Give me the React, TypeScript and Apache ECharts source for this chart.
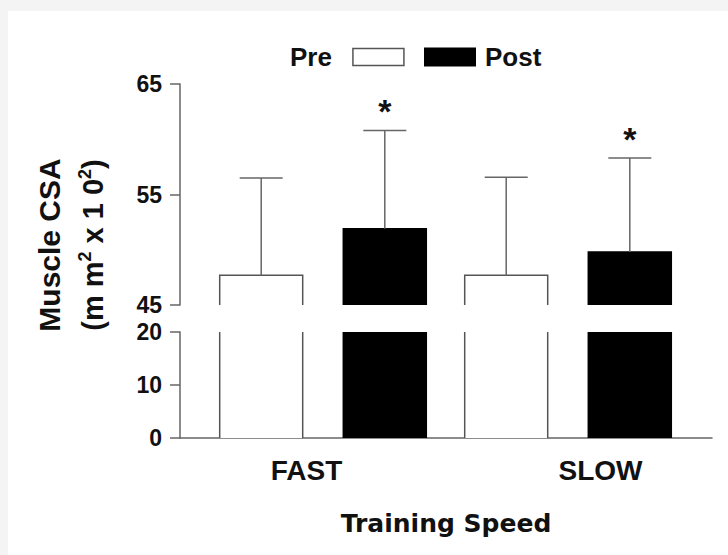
import React, { useEffect, useRef } from 'react';
import * as echarts from 'echarts';

const categories = ['FAST', 'SLOW'];
const seriesNames = ['Pre', 'Post'];
const preMeans = [47.7, 47.7];
const preSD = [8.8, 8.85];
const postMeans = [51.9, 49.8];
const postSD = [8.9, 8.5];
const postSig = ['*', '*'];
const upperTicks = [45, 55, 65];
const lowerTicks = [0, 10, 20];
const yNameLine1 = 'Muscle CSA';
const yNameLine2 = '(m m{sup|2} x 1 0{sup|2})';
const xName = 'Training Speed';

const BAR_W = 83;
const BAR_SHIFT = 61.8;
const CAP_W = 43;
const OUTLINE = '#555';
const ERR = '#666';
const AXIS = '#666';
const TXT = '#111';
const FONT = 'Liberation Sans';

const makeBars = (group: number, upper: boolean) => (params: any, api: any) => {
  const cat = api.value(0);
  const mean = api.value(1);
  const sd = api.value(2);
  const cs = params.coordSys;
  const p = api.coord([cat, mean]);
  const cx = p[0] + (group === 0 ? -BAR_SHIFT : BAR_SHIFT);
  const bottom = cs.y + cs.height;
  const clipped = p[1] < cs.y;
  const top = clipped ? cs.y : p[1];
  const x0 = cx - BAR_W / 2;
  const x1 = cx + BAR_W / 2;
  const fill = group === 0 ? '#ffffff' : '#000000';
  const edge = group === 0 ? OUTLINE : '#000';
  const ls = { stroke: edge, lineWidth: 1.5, fill: null };
  const children: any[] = [
    { type: 'rect', shape: { x: x0, y: top, width: BAR_W, height: bottom - top }, style: { fill } },
  ];
  if (clipped) {
    children.push({ type: 'line', shape: { x1: x0, y1: top, x2: x0, y2: bottom }, style: ls });
    children.push({ type: 'line', shape: { x1: x1, y1: top, x2: x1, y2: bottom }, style: ls });
  } else {
    children.push({
      type: 'polyline',
      shape: { points: [[x0, bottom], [x0, top], [x1, top], [x1, bottom]] },
      style: ls,
    });
  }
  if (upper) {
    const e = api.coord([cat, mean + sd])[1];
    children.push({ type: 'line', shape: { x1: cx, y1: top, x2: cx, y2: e }, style: { stroke: ERR, lineWidth: 1.5 } });
    children.push({
      type: 'line',
      shape: { x1: cx - CAP_W / 2, y1: e, x2: cx + CAP_W / 2, y2: e },
      style: { stroke: ERR, lineWidth: 1.5 },
    });
    const sig = group === 1 ? postSig[params.dataIndex] : '';
    if (sig) {
      children.push({
        type: 'text',
        x: cx,
        y: e - 19,
        style: {
          text: sig,
          fontSize: 34,
          fontWeight: 'bold',
          fontFamily: FONT,
          fill: TXT,
          align: 'center',
          verticalAlign: 'middle',
        },
      });
    }
  }
  return { type: 'group', children };
};

const preData = categories.map((c, i) => [i, preMeans[i], preSD[i]]);
const postData = categories.map((c, i) => [i, postMeans[i], postSD[i]]);

const labelStyle = { fontSize: 23, fontWeight: 'bold' as const, fontFamily: FONT, color: TXT };

function buildOption(): any {
  const gridBase = { containLabel: false, outerBoundsMode: 'none' };
  return {
    animation: false,
    textStyle: { fontFamily: FONT },
    grid: [
      { ...gridBase, left: 200.5, width: 490, top: 84, height: 221 },
      { ...gridBase, left: 200.5, width: 490, top: 332, height: 106 },
      { ...gridBase, left: 180, width: 532, top: 332, height: 106 },
      { ...gridBase, left: 159.5, width: 588, top: 332, height: 106 },
    ],
    xAxis: [
      { gridIndex: 0, type: 'category', data: categories, show: false },
      { gridIndex: 1, type: 'category', data: categories, show: false },
      {
        gridIndex: 2,
        type: 'category',
        data: categories,
        axisLine: { show: true, lineStyle: { color: AXIS, width: 1.5 } },
        axisTick: { show: false },
        axisLabel: { show: false },
        name: xName,
        nameLocation: 'middle',
        nameGap: 73,
        nameTextStyle: { fontSize: 25, fontWeight: 'bold', fontFamily: 'DejaVu Sans', color: TXT },
      },
      {
        gridIndex: 3,
        type: 'category',
        data: categories,
        axisLine: { show: false },
        axisTick: { show: false },
        axisLabel: { show: true, margin: 18, fontSize: 28, fontWeight: 'bold', fontFamily: FONT, color: TXT },
      },
    ],
    yAxis: [
      {
        gridIndex: 0,
        type: 'value',
        min: 45,
        max: 65,
        offset: 20.5,
        axisLine: { show: true, lineStyle: { color: AXIS, width: 1.5 } },
        axisTick: { show: true, length: 10, customValues: upperTicks, lineStyle: { color: AXIS, width: 1.5 } },
        axisLabel: { show: true, margin: 18, customValues: upperTicks, ...labelStyle },
        splitLine: { show: false },
      },
      {
        gridIndex: 1,
        type: 'value',
        min: 0,
        max: 20,
        offset: 20.5,
        axisLine: { show: true, lineStyle: { color: AXIS, width: 1.5 } },
        axisTick: { show: true, length: 10, customValues: lowerTicks, lineStyle: { color: AXIS, width: 1.5 } },
        axisLabel: { show: true, margin: 18, customValues: lowerTicks, ...labelStyle },
        splitLine: { show: false },
      },
      { gridIndex: 2, type: 'value', show: false, min: 0, max: 20 },
      { gridIndex: 3, type: 'value', show: false, min: 0, max: 20 },
    ],
    legend: [
      {
        data: [{ name: seriesNames[0], itemStyle: { color: '#fff', borderColor: OUTLINE, borderWidth: 1.5 } }],
        align: 'right',
        left: 290,
        top: 44,
        padding: 0,
        icon: 'rect',
        itemWidth: 51,
        itemHeight: 17,
        selectedMode: false,
        textStyle: { fontSize: 26, fontWeight: 'bold', fontFamily: FONT, color: TXT, padding: [0, 16, 0, 0] },
      },
      {
        data: [{ name: seriesNames[1], itemStyle: { color: '#000', borderColor: '#000', borderWidth: 0 } }],
        align: 'left',
        left: 424,
        top: 44,
        padding: 0,
        icon: 'rect',
        itemWidth: 52,
        itemHeight: 19,
        selectedMode: false,
        textStyle: { fontSize: 26, fontWeight: 'bold', fontFamily: FONT, color: TXT, padding: [0, 0, 0, 4] },
      },
    ],
    graphic: [
      {
        type: 'text',
        x: 49,
        y: 245,
        rotation: Math.PI / 2,
        style: {
          text: yNameLine1,
          fontSize: 30,
          fontWeight: 'bold',
          fontFamily: FONT,
          fill: TXT,
          align: 'center',
          verticalAlign: 'middle',
        },
      },
      {
        type: 'text',
        x: 93,
        y: 245,
        rotation: Math.PI / 2,
        style: {
          text: yNameLine2,
          fontSize: 29,
          fontWeight: 'bold',
          fontFamily: FONT,
          fill: TXT,
          align: 'center',
          verticalAlign: 'middle',
          rich: {
            sup: { fontSize: 18, fontWeight: 'bold', fontFamily: FONT, fill: TXT, padding: [0, 0, 16, 0] },
          },
        },
      },
    ],
    series: [
      {
        type: 'custom',
        name: seriesNames[0],
        xAxisIndex: 0,
        yAxisIndex: 0,
        data: preData,
        encode: { x: 0, y: 1 },
        itemStyle: { color: '#fff', borderColor: OUTLINE, borderWidth: 1.5 },
        renderItem: makeBars(0, true),
      },
      {
        type: 'custom',
        name: seriesNames[1],
        xAxisIndex: 0,
        yAxisIndex: 0,
        data: postData,
        encode: { x: 0, y: 1 },
        itemStyle: { color: '#000' },
        renderItem: makeBars(1, true),
      },
      {
        type: 'custom',
        name: seriesNames[0],
        xAxisIndex: 1,
        yAxisIndex: 1,
        data: preData,
        encode: { x: 0, y: 1 },
        itemStyle: { color: '#fff', borderColor: OUTLINE, borderWidth: 1.5 },
        renderItem: makeBars(0, false),
      },
      {
        type: 'custom',
        name: seriesNames[1],
        xAxisIndex: 1,
        yAxisIndex: 1,
        data: postData,
        encode: { x: 0, y: 1 },
        itemStyle: { color: '#000' },
        renderItem: makeBars(1, false),
      },
    ],
  };
}

export default function App() {
  const ref = useRef<HTMLDivElement>(null);
  useEffect(() => {
    if (!ref.current) return;
    const chart = echarts.init(ref.current, null, { renderer: 'svg' });
    chart.setOption(buildOption());
    return () => chart.dispose();
  }, []);
  return (
    <div style={{ position: 'fixed', left: 0, top: 0, width: 728, height: 555, background: '#fff', overflow: 'hidden' }}>
      <div style={{ position: 'absolute', left: 0, top: 0, width: 728, height: 11, background: '#f4f4f4' }} />
      <div style={{ position: 'absolute', left: 0, top: 0, width: 8, height: 555, background: '#f4f4f4' }} />
      <div ref={ref} style={{ position: 'absolute', left: 0, top: 0, width: 728, height: 555 }} />
    </div>
  );
}
